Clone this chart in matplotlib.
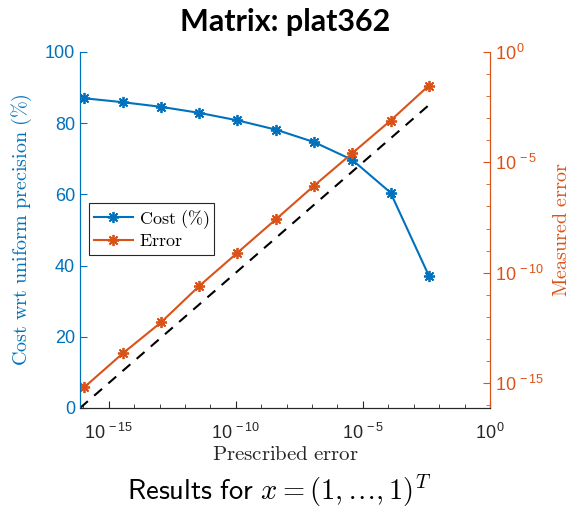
import numpy as np
import matplotlib.pyplot as plt
from matplotlib.ticker import FixedLocator, FuncFormatter, NullFormatter

plt.rcParams['font.family'] = 'Liberation Sans'
plt.rcParams['mathtext.fontset'] = 'custom'
plt.rcParams['mathtext.rm'] = 'Liberation Sans'
plt.rcParams['mathtext.it'] = 'Liberation Sans:italic'
plt.rcParams['mathtext.bf'] = 'Liberation Sans:bold'

# Prescribed tolerances (powers of two) and results
prescribed = [2.0**-53, 2.0**-48, 2.0**-43, 2.0**-38, 2.0**-33,
              2.0**-28, 2.0**-23, 2.0**-18, 2.0**-13, 2.0**-8]
cost = [87.0, 85.9, 84.6, 82.9, 80.8, 78.2, 74.7, 69.7, 60.5, 37.2]
measured = [6.6e-16, 2.2e-14, 5.6e-13, 2.5e-11, 8.1e-10,
            2.6e-8, 8.7e-7, 2.6e-5, 7.8e-4, 3.0e-2]

lo = 10**-16.13
blue = '#0072BD'
orange = '#D95319'
dark = '#262626'

fig = plt.figure(figsize=(5.70, 5.09), dpi=100)
ax = fig.add_axes([80/570, 1 - 408/509, 410/570, 356/509])
ax2 = ax.twinx()

l1, = ax.plot(prescribed, cost, '-', color=blue, lw=1.5,
              marker=(8, 2, 0), ms=8, mew=1.3, label='Cost (%)')
ax.set_xscale('log')
ax.set_xlim(lo, 1)
ax.set_ylim(0, 100)
ax.set_yticks([0, 20, 40, 60, 80, 100])

l2, = ax2.plot(prescribed, measured, '-', color=orange, lw=1.5,
               marker=(8, 2, 0), ms=8, mew=1.3, label='Error')
ax2.plot([lo, prescribed[-1]], [lo, prescribed[-1]], '--', color='black',
         lw=1.5, dashes=(5, 4))
ax2.set_yscale('log')
ax2.set_ylim(lo, 1)
ax2.set_xlim(lo, 1)


def pow10(v, pos):
    e = int(round(np.log10(v)))
    return r'10$^{\,%d}$' % e


for a, axis in ((ax, ax.xaxis), (ax2, ax2.yaxis)):
    axis.set_major_locator(FixedLocator([1e-15, 1e-10, 1e-5, 1e0]))
    axis.set_minor_locator(FixedLocator([10.0**k for k in range(-16, 0)]))
    axis.set_major_formatter(FuncFormatter(pow10))
    axis.set_minor_formatter(NullFormatter())

ax.tick_params(axis='x', which='both', direction='in', colors=dark,
               labelsize=13, pad=11)
ax.tick_params(axis='x', which='major', length=5)
ax.tick_params(axis='x', which='minor', length=3)
ax.tick_params(axis='y', direction='in', colors=blue, labelsize=13, length=5)
ax2.tick_params(axis='y', which='both', direction='in', colors=orange,
                labelsize=13)
ax2.tick_params(axis='y', which='major', length=5)
ax2.tick_params(axis='y', which='minor', length=3)

for a in (ax, ax2):
    a.spines['top'].set_visible(False)
    a.spines['bottom'].set_color(dark)
    a.spines['left'].set_color(blue)
    a.spines['right'].set_color(orange)

ax.set_xlabel(r'$\mathrm{Prescribed\ error}$', fontsize=15, color=dark,
              math_fontfamily='cm', labelpad=1)
ax.set_ylabel(r'$\mathrm{Cost\ wrt\ uniform\ precision\ (\%)}$', fontsize=14.5,
              color=blue, math_fontfamily='cm', labelpad=8)
ax2.set_ylabel(r'$\mathrm{Measured\ error}$', fontsize=14.5, color=orange,
               math_fontfamily='cm', labelpad=6)

leg = ax2.legend([l1, l2], ['Cost (%)', 'Error'], loc='upper left',
                 bbox_to_anchor=(0.022, 0.575), borderaxespad=0,
                 fancybox=False, edgecolor=dark, fontsize=13,
                 handlelength=2.2, handletextpad=0.3, borderpad=0.25,
                 labelspacing=0.15, framealpha=1)
leg.get_frame().set_linewidth(0.8)
for t in leg.get_texts():
    t.set_text(r'$\mathrm{' + t.get_text().replace('%', r'\%').replace(' ', r'\ ') + '}$')
    t.set_math_fontfamily('cm')

fig.text(0.5, 1 - 22/509, 'Matrix: plat362', ha='center', va='center',
         fontsize=22, fontweight='bold', family='Lato')
fig.text(0.49, 1 - 491/509, r'$\mathsf{Results\ for}\ x = (1,\ldots,1)^T$',
         ha='center', va='center', fontsize=20.5, math_fontfamily='cm')

fig.savefig('out.png', dpi=100)
